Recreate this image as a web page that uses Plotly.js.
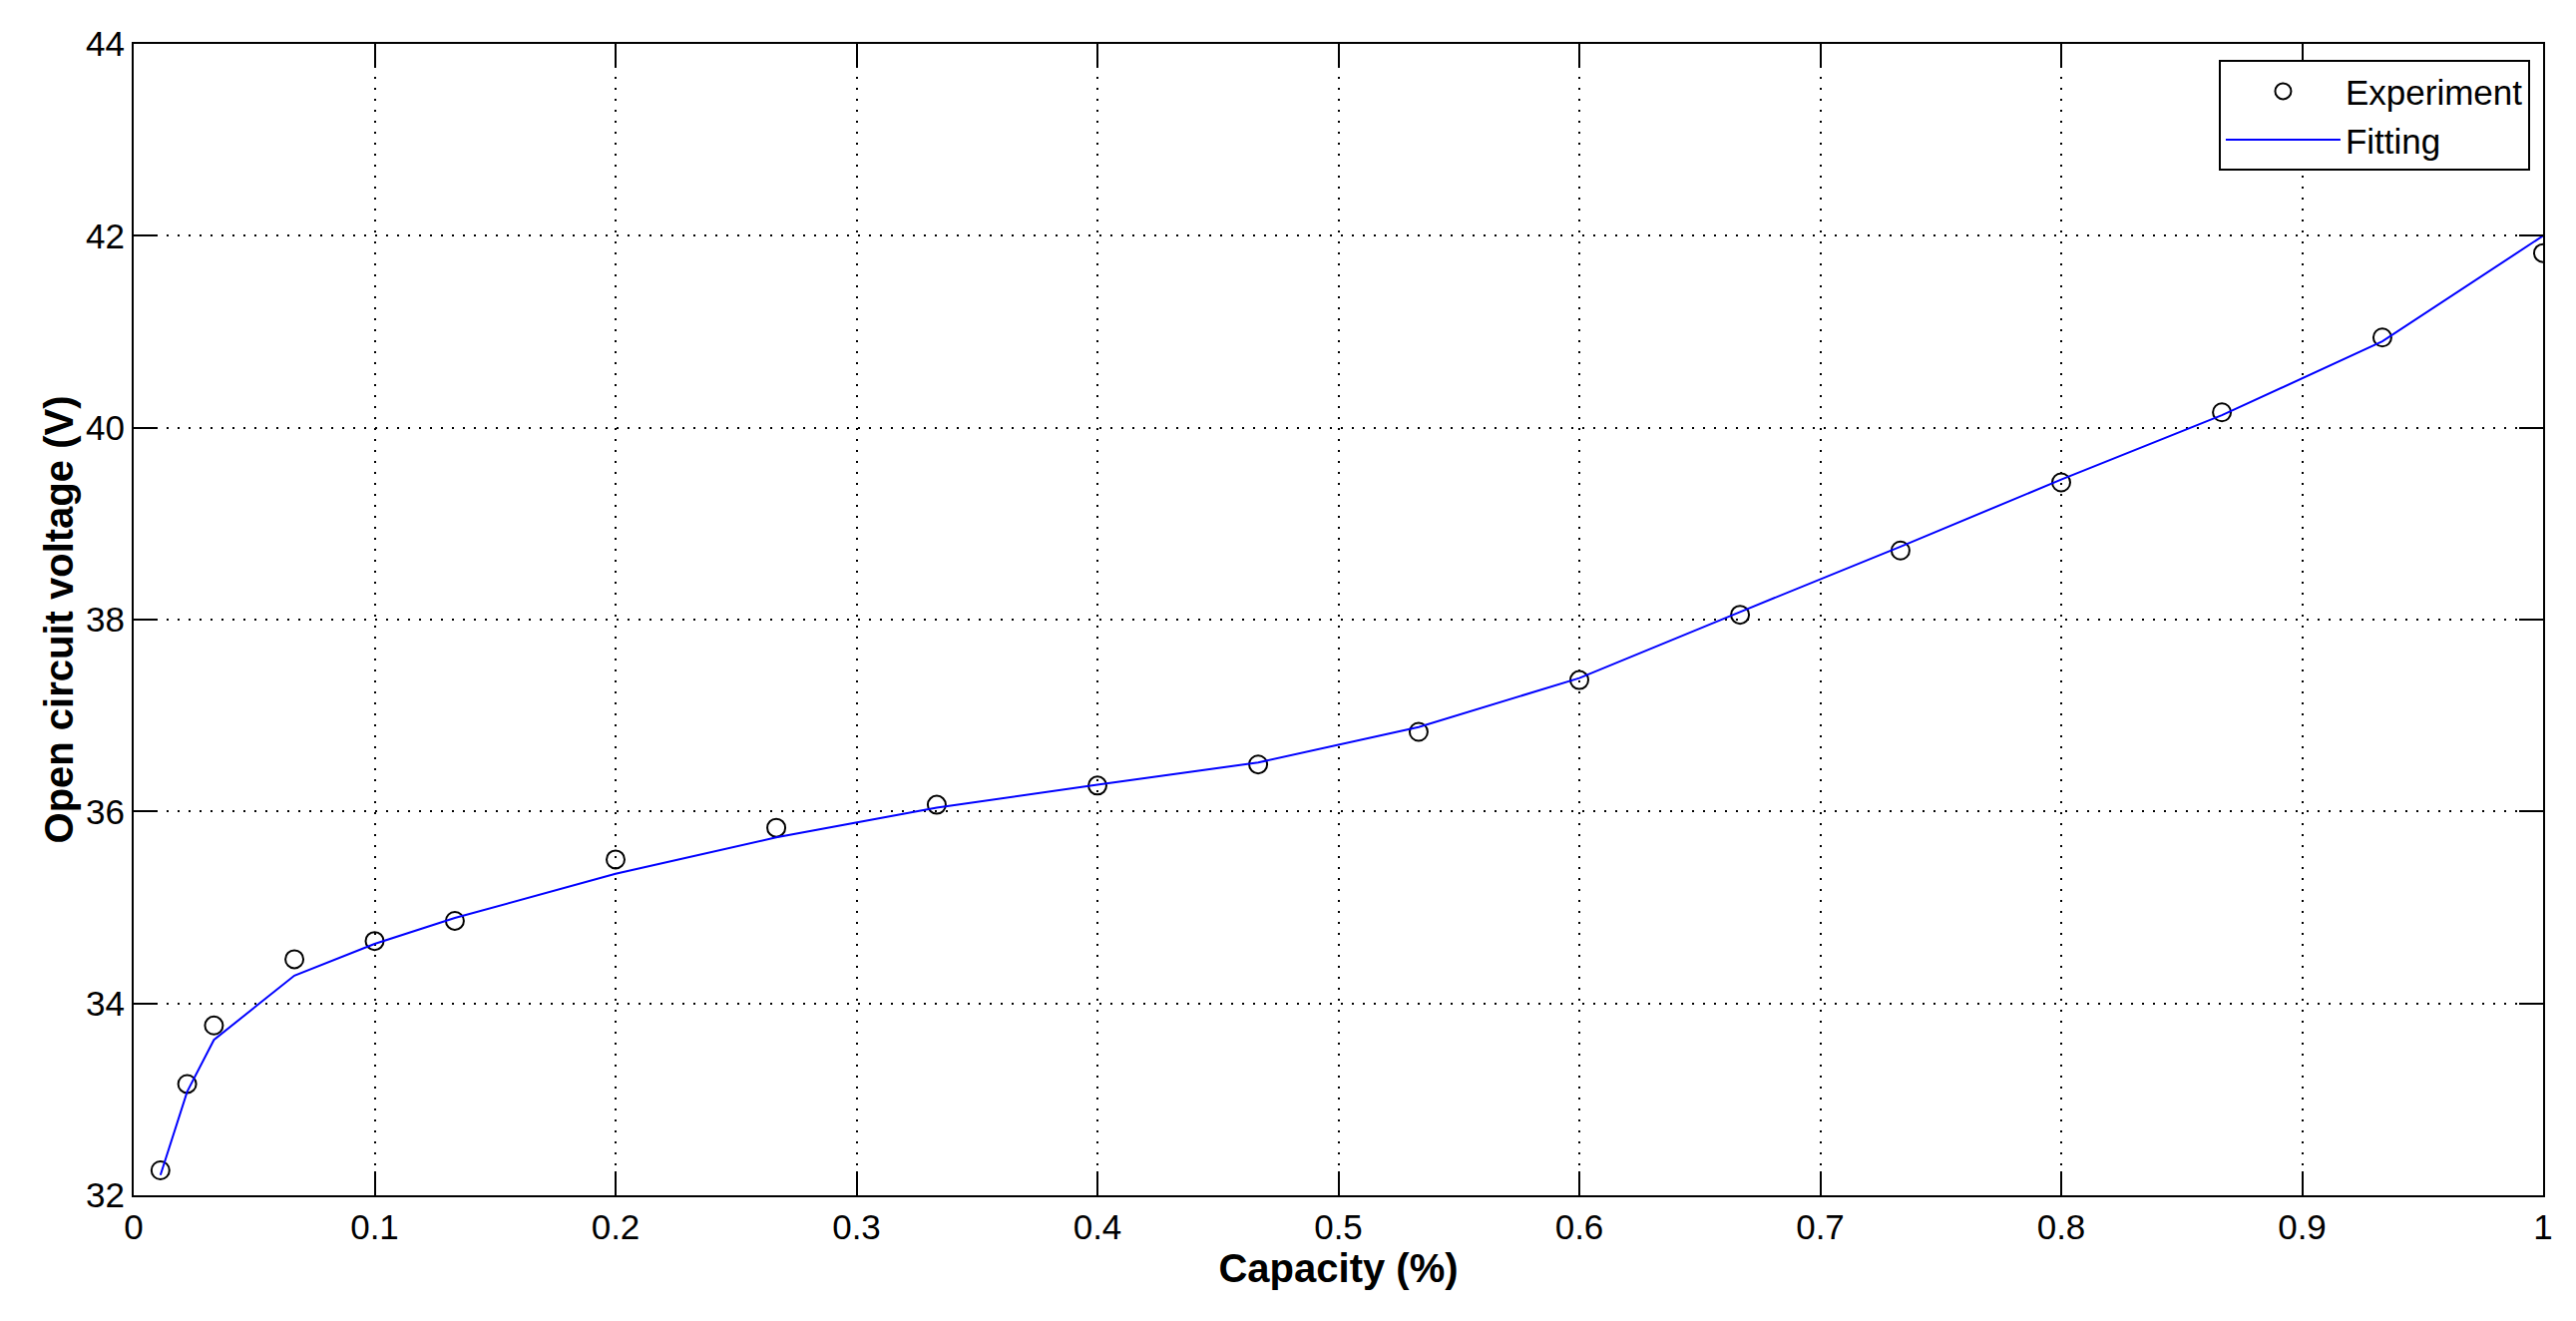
<!DOCTYPE html>
<html>
<head>
<meta charset="utf-8">
<script src="https://cdn.plot.ly/plotly-3.0.1.min.js"></script>
<style>
  html, body { margin: 0; padding: 0; background: #fff; }
  #chart { width: 2582px; height: 1324px; }
</style>
</head>
<body>
<div id="chart"></div>
<script>
// capacity points (fraction of full charge)
const capacity = [0.0111, 0.0222, 0.0333, 0.0667, 0.1, 0.1333, 0.2, 0.2667, 0.3333, 0.4,
  0.4667, 0.5333, 0.6, 0.6667, 0.7333, 0.8, 0.8667, 0.9333, 1.0]
// measured open circuit voltage (V)
const experiment = [32.26, 33.16, 33.77, 34.46, 34.65, 34.86, 35.50, 35.83, 36.07, 36.27,
  36.49, 36.83, 37.37, 38.05, 38.72, 39.43, 40.16, 40.94, 41.82]
// fitted curve (V)
const fitting = [32.21, 33.08, 33.62, 34.29, 34.62, 34.89, 35.35, 35.73, 36.04, 36.28,
  36.51, 36.88, 37.39, 38.08, 38.76, 39.46, 40.13, 40.90, 42.0]

const config = {
  responsive: false,
  displayModeBar: false,
  displaylogo: false,
  staticPlot: true
}

const FONT = 'Arial, "Liberation Sans", Helvetica, sans-serif'

const getExperimentData = () => {
  return {
    x: capacity,
    y: experiment,
    type: 'scatter',
    mode: 'markers',
    name: 'Experiment',
    marker: {
      symbol: 'circle-open',
      size: 18,
      color: 'black',
      line: { color: 'black', width: 2 }
    }
  }
}

const getFittingData = () => {
  return {
    x: capacity,
    y: fitting,
    type: 'scatter',
    mode: 'lines',
    name: 'Fitting',
    line: { color: '#0000ff', width: 2 }
  }
}

// matlab-ish box axes: inside ticks, mirrored, dotted grid
const axisStyle = {
  showline: true,
  linecolor: 'black',
  linewidth: 2,
  mirror: 'ticks',
  ticks: 'inside',
  ticklen: 24,
  tickwidth: 2,
  tickcolor: 'black',
  showgrid: true,
  gridcolor: 'black',
  gridwidth: 2,
  griddash: '2px,9px',
  zeroline: false,
  tickfont: { family: FONT, size: 35, color: 'black' }
}

const plot = (htmlId) => {
  var data = [getExperimentData(), getFittingData()]

  var layout = {
    width: 2582,
    height: 1324,
    autosize: false,
    paper_bgcolor: 'white',
    plot_bgcolor: 'white',
    margin: { l: 134, r: 33, t: 44, b: 126 },
    font: { family: FONT, color: 'black' },
    showlegend: true,
    legend: {
      x: 0.9946,
      xanchor: 'right',
      y: 0.986,
      yanchor: 'top',
      bgcolor: 'white',
      bordercolor: 'black',
      borderwidth: 2,
      font: { family: FONT, size: 35, color: 'black' },
      itemwidth: 115,
      tracegroupgap: 0
    },
    xaxis: Object.assign({}, axisStyle, {
      range: [0, 1],
      tick0: 0,
      dtick: 0.1,
      title: {
        text: 'Capacity (%)',
        font: { family: FONT, size: 40, weight: 'bold', color: 'black' },
        standoff: 8
      }
    }),
    yaxis: Object.assign({}, axisStyle, {
      range: [32, 44],
      tick0: 32,
      dtick: 2,
      title: {
        text: 'Open circuit voltage (V)',
        font: { family: FONT, size: 40, weight: 'bold', color: 'black' },
        standoff: 0
      }
    })
  }

  Plotly.newPlot(htmlId, data, layout, config)
}

plot('chart')
</script>
</body>
</html>
